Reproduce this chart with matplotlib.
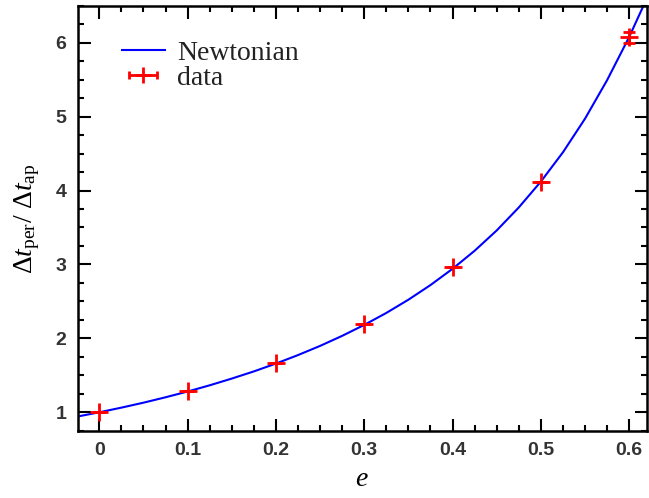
import numpy as np
import matplotlib
matplotlib.use('Agg')
import matplotlib.pyplot as plt
from matplotlib.ticker import MultipleLocator

matplotlib.rcParams.update({'mathtext.fontset': 'custom',
                            'mathtext.rm': 'Liberation Serif',
                            'mathtext.it': 'Liberation Serif:italic',
                            'mathtext.bf': 'Liberation Serif:bold'})

# Newtonian curve
e_curve = [-0.025, 0.0, 0.025, 0.05, 0.075, 0.1, 0.125, 0.15, 0.175, 0.2,
           0.225, 0.25, 0.275, 0.3, 0.325, 0.35, 0.375, 0.4, 0.425, 0.45,
           0.475, 0.5, 0.525, 0.55, 0.575, 0.6, 0.62]
r_curve = [0.942, 1.000, 1.063, 1.130, 1.203, 1.281, 1.365, 1.456, 1.553, 1.659,
           1.774, 1.898, 2.034, 2.182, 2.344, 2.523, 2.721, 2.941, 3.185, 3.460,
           3.771, 4.121, 4.517, 4.972, 5.493, 6.077, 6.60]

# measured points
e_data = [0.0, 0.1, 0.2, 0.3, 0.4, 0.5, 0.6]
r_data = [1.0, 1.29, 1.67, 2.20, 2.96, 4.12, 6.07]
r_err = [0.0, 0.0, 0.0, 0.0, 0.0, 0.0, 0.08]

fig = plt.figure(figsize=(6.49, 4.98), dpi=100)
ax = fig.add_axes([0.1197, 0.135, 0.877, 0.8536])

ax.plot(e_curve, r_curve, color='#0000ff', lw=1.5, label='Newtonian')
ax.errorbar(e_data, r_data, yerr=r_err, fmt='+', color='red', ms=12.5, mew=2,
            elinewidth=2, capsize=4, capthick=2)
# proxy for the legend sample (horizontal bar with caps)
ax.errorbar([np.nan], [np.nan], xerr=[1.0], fmt='+', color='red', ms=12, mew=2,
            elinewidth=2, capsize=3, capthick=2, label='data')

ax.set_xlim(-0.0245, 0.62)
ax.set_ylim(0.75, 6.5)
ax.xaxis.set_major_locator(MultipleLocator(0.1))
ax.xaxis.set_minor_locator(MultipleLocator(0.025))
ax.yaxis.set_major_locator(MultipleLocator(1))
ax.yaxis.set_minor_locator(MultipleLocator(0.25))
ax.set_xticks([0, 0.1, 0.2, 0.3, 0.4, 0.5, 0.6])
ax.set_xticklabels(['0', '0.1', '0.2', '0.3', '0.4', '0.5', '0.6'])
ax.tick_params(which='both', direction='in', top=True, right=True, width=1.5)
ax.tick_params(which='major', length=9, pad=8)
ax.tick_params(which='minor', length=4.5)
for lab in ax.get_xticklabels() + ax.get_yticklabels():
    lab.set_fontfamily('Liberation Sans')
    lab.set_fontweight('bold')
    lab.set_fontsize(14)
    lab.set_color('#333333')
for s in ax.spines.values():
    s.set_linewidth(1.8)

ax.set_xlabel(r'$e$', fontsize=20, labelpad=4)
ax.set_ylabel(r'$\Delta t_{\rm per}/\ \Delta t_{\rm ap}$', fontsize=20, labelpad=10)

leg = ax.legend(loc='upper left', bbox_to_anchor=(0.058, 0.945), frameon=False,
                prop={'family': 'Liberation Serif', 'size': 20},
                handlelength=1.55, handletextpad=0.45, labelspacing=-0.02,
                borderaxespad=0)
for t in leg.get_texts():
    t.set_color('#222222')

fig.savefig('out.png', dpi=100)
